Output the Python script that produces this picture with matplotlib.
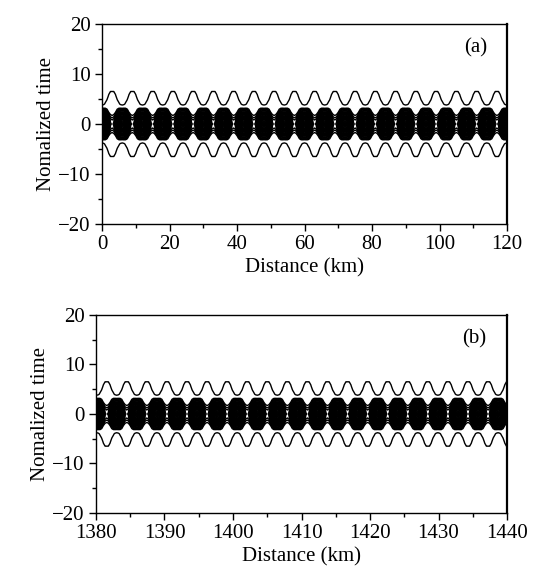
"""Contour maps of a breathing pulse over two stretches of fibre."""
import matplotlib
matplotlib.use("Agg")
import matplotlib.pyplot as plt
import numpy as np

plt.rcParams["font.family"] = ["Liberation Serif", "DejaVu Serif"]

# one breathing period, 12 samples starting at the compressed (dark) phase,
# read from the picture
outer_extent = [3.2, 3.5, 4.2, 4.9, 5.9, 6.5, 6.5, 6.5, 5.9, 4.9, 4.2, 3.5]   # lowest contour, |t|
core_peak = [1.0, 0.95, 0.75, 0.35, 0.12, 0.055, 0.045, 0.055, 0.12, 0.35, 0.75, 0.95]
core_width = 1.6
# contour levels of the normalized intensity
levels = [0.01, 0.035, 0.045, 0.055, 0.07, 0.085, 0.1, 0.12, 0.14, 0.17, 0.2, 0.24,
          0.28, 0.33, 0.38, 0.44, 0.5, 0.56, 0.62, 0.68, 0.74, 0.8, 0.86, 0.91, 0.95, 0.98]

# panel settings: distance window (km) and breathing period (km)
panels = [
    {"tag": "(a)", "z0": 0.0, "z1": 120.0, "period": 6.0, "shift": 0.0,
     "xticks": [0, 20, 40, 60, 80, 100, 120]},
    {"tag": "(b)", "z0": 1380.0, "z1": 1440.0, "period": 2.93, "shift": 0.1,
     "xticks": [1380, 1390, 1400, 1410, 1420, 1430, 1440]},
]
t_step = 0.8
t = np.arange(-20, 20 + t_step, t_step)


def field(p):
    n = len(outer_extent)
    dz = p["period"] / n
    z = np.arange(p["z0"] - 2 * dz + p["shift"], p["z1"] + 2 * dz, dz)
    k = np.round((z - p["z0"] - p["shift"]) / dz).astype(int) % n
    ext = np.array(outer_extent)[k][None, :]
    amp = np.array(core_peak)[k][None, :]
    tt = t[:, None]
    ped = 2 * levels[0] * np.exp(-np.log(2) * (tt / ext) ** 6)
    core = amp * np.exp(-(tt / core_width) ** 2)
    return z, ped + core


fig = plt.figure(figsize=(5.36, 5.85), dpi=100, facecolor="white")
rects = [[0.1903, 0.6171, 0.7556, 0.3419], [0.1791, 0.1231, 0.7668, 0.3385]]

for p, r in zip(panels, rects):
    ax = fig.add_axes(r)
    z, I = field(p)
    ax.contour(z, t, I, levels=levels, colors="black", linewidths=1.0)
    ax.set_xlim(p["z0"], p["z1"])
    ax.set_ylim(-20, 20)
    ax.set_xticks(p["xticks"])
    step = p["xticks"][1] - p["xticks"][0]
    ax.set_xticks(np.arange(p["z0"], p["z1"] + 0.1, step / 2), minor=True)
    ax.set_yticks([-20, -10, 0, 10, 20])
    ax.set_yticks([-15, -5, 5, 15], minor=True)
    ax.tick_params(which="both", direction="out", top=False, right=False,
                   labelsize=15, width=1.0, color="black")
    ax.tick_params(which="major", length=5, pad=3)
    ax.tick_params(which="minor", length=3)
    for s in ax.spines.values():
        s.set_linewidth(1.0)
    ax.spines["right"].set_linewidth(1.6)
    ax.set_xlabel("Distance (km)", fontsize=15, labelpad=3)
    ax.set_ylabel("Nomalized time", fontsize=15, labelpad=2)
    ax.text(0.95, 0.88, p["tag"], transform=ax.transAxes, ha="right", va="center",
            fontsize=15)

fig.savefig("out.png", dpi=100)
